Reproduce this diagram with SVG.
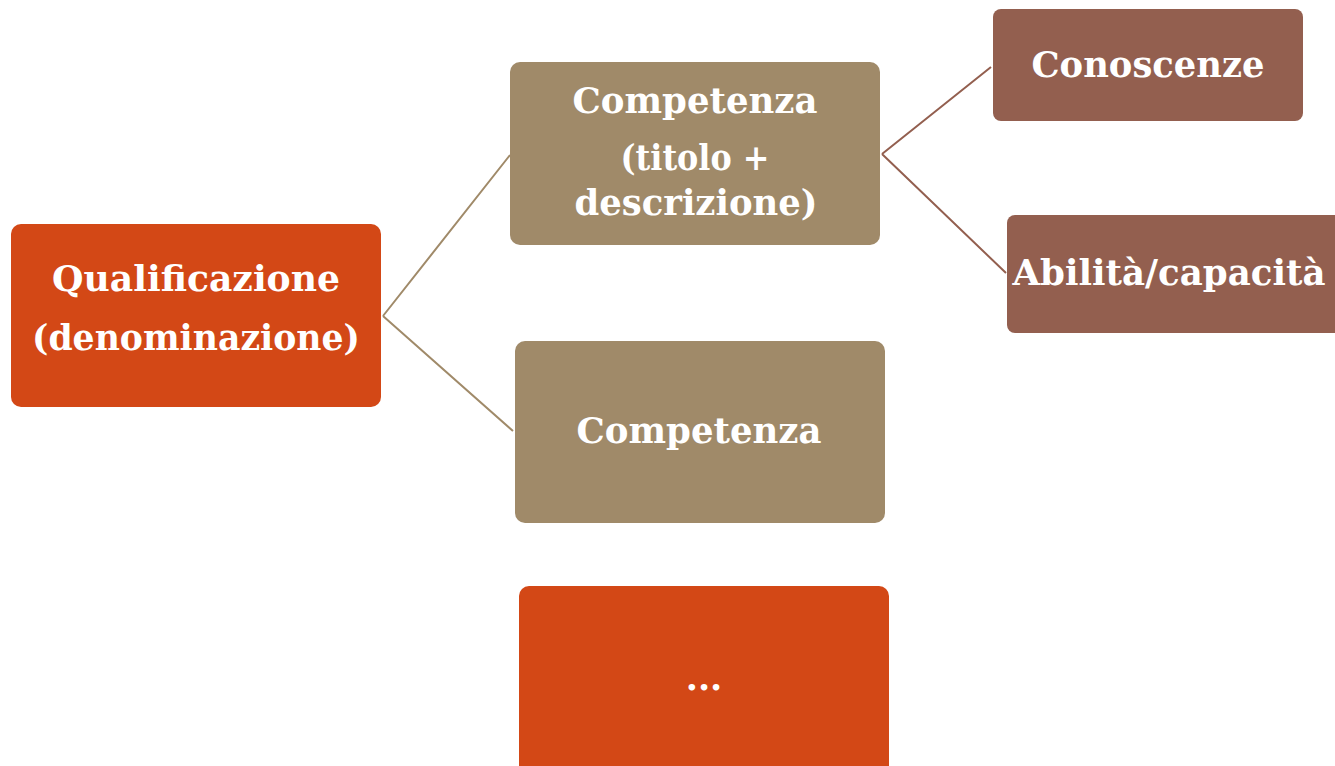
<svg xmlns="http://www.w3.org/2000/svg" width="1335" height="766" viewBox="0 0 1335 766">
<style>
.t{font-family:"DejaVu Serif","Liberation Serif",serif;font-weight:bold;fill:#ffffff;font-size:35px;}
.orange{fill:#d34816;}
.tan{fill:#a08a69;}
.brown{fill:#935f4f;}
</style>
<rect width="1335" height="766" fill="#ffffff"/>
<g id="connectors" fill="none" stroke-width="2">
<path d="M383,316 L510,155 M383,316 L513,431" stroke="#a08a69"/>
<path d="M882,154 L991,67 M882,154 L1006,273" stroke="#935f4f"/>
</g>
<g id="qualificazione">
<rect class="orange" x="11" y="224" width="370" height="183" rx="10"/>
<text class="t" x="196" y="291" text-anchor="middle" textLength="288" lengthAdjust="spacingAndGlyphs">Qualificazione</text>
<text class="t" x="196" y="350" text-anchor="middle" textLength="328" lengthAdjust="spacingAndGlyphs">(denominazione)</text>
</g>
<g id="competenza1">
<rect class="tan" x="510" y="62" width="370" height="183" rx="10"/>
<text class="t" x="695" y="113" text-anchor="middle" textLength="245" lengthAdjust="spacingAndGlyphs">Competenza</text>
<text class="t" x="695" y="170" text-anchor="middle" textLength="149" lengthAdjust="spacingAndGlyphs">(titolo +</text>
<text class="t" x="696" y="215" text-anchor="middle" textLength="243" lengthAdjust="spacingAndGlyphs">descrizione)</text>
</g>
<g id="competenza2">
<rect class="tan" x="515" y="341" width="370" height="182" rx="10"/>
<text class="t" x="699" y="443" text-anchor="middle" textLength="245" lengthAdjust="spacingAndGlyphs">Competenza</text>
</g>
<g id="altro">
<rect class="orange" x="519" y="586" width="370" height="190" rx="10"/>
<text class="t" x="704" y="690" text-anchor="middle">...</text>
</g>
<g id="conoscenze">
<rect class="brown" x="993" y="9" width="310" height="112" rx="8"/>
<text class="t" x="1148" y="77" text-anchor="middle" textLength="233" lengthAdjust="spacingAndGlyphs">Conoscenze</text>
</g>
<g id="abilita">
<rect class="brown" x="1007" y="215" width="340" height="118" rx="8"/>
<text class="t" x="1169" y="285" text-anchor="middle" textLength="313" lengthAdjust="spacingAndGlyphs">Abilità/capacità</text>
</g>
</svg>
